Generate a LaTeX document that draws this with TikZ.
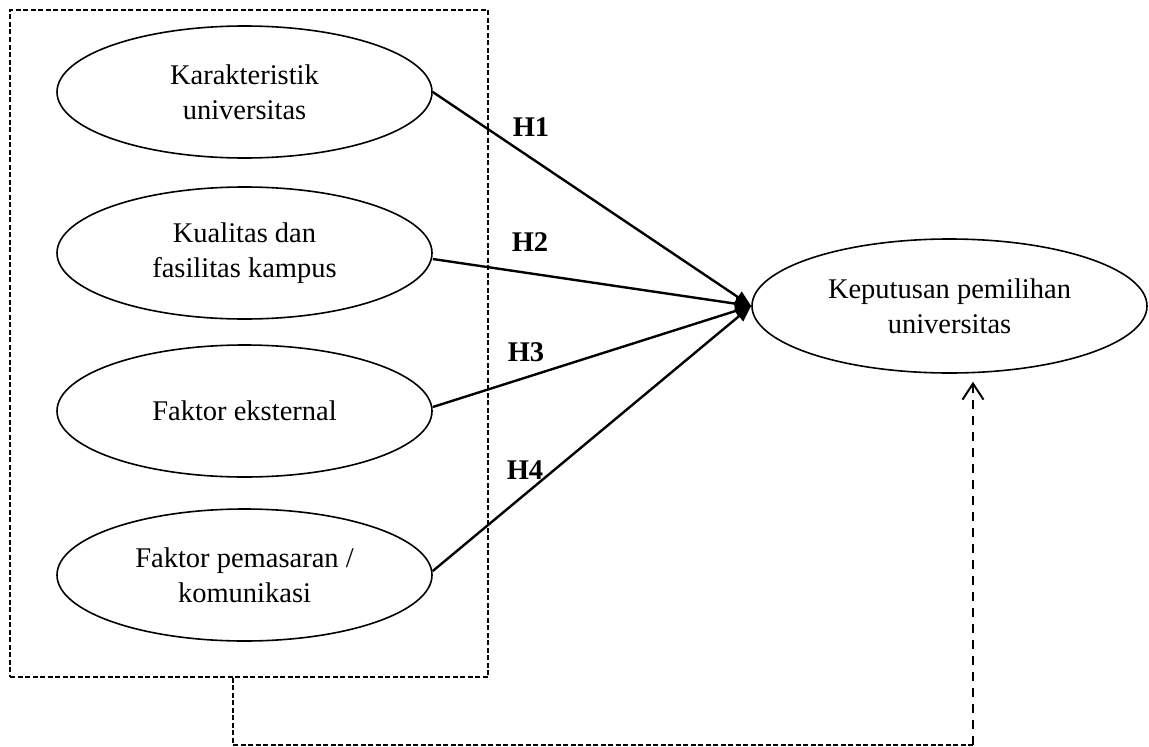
\documentclass[tikz,border=0pt]{standalone}
\usepackage{fontspec}
\setmainfont{Liberation Serif}
\usetikzlibrary{shapes.geometric,arrows.meta}
\begin{document}
\begin{tikzpicture}[x=1pt,y=-1pt,
  oval/.style={draw,ellipse,line width=1.6pt,inner sep=0pt,align=center,
    font=\fontsize{28.5}{35}\selectfont},
  leftoval/.style={oval,minimum width=375pt,minimum height=132pt},
  hyp/.style={line width=2.4pt,-{Triangle[length=16pt,width=13pt]}},
  hlabel/.style={font=\fontsize{28.5}{34}\selectfont\bfseries},
  finedash/.style={line width=1.4pt,dash pattern=on 5pt off 2.5pt},
  longdash/.style={line width=1.8pt,dash pattern=on 9pt off 7pt}]
\useasboundingbox[fill=white] (0,0) rectangle (1149,747);
\node[draw,finedash,minimum width=478pt,minimum height=667pt,inner sep=0pt] (box) at (249,343.5) {};
\node[leftoval] (e1) at (244.5,92) {Karakteristik\\universitas};
\node[leftoval] (e2) at (244.5,253) {Kualitas dan\\fasilitas kampus};
\node[leftoval] (e3) at (244.5,411) {Faktor eksternal};
\node[leftoval] (e4) at (244.5,575) {Faktor pemasaran /\\komunikasi};
\node[oval,minimum width=395pt,minimum height=134pt] (k) at (949.5,306) {Keputusan pemilihan\\universitas};
\draw[hyp] (e1.east) -- (k.west);
\draw[hyp] ([yshift=-6pt]e2.east) -- (k.west);
\draw[hyp] ([yshift=4pt]e3.east) -- (k.west);
\draw[hyp] ([yshift=4pt]e4.east) -- (k.west);
\node[hlabel] (h1) at (531,127) {H1};
\node[hlabel] (h2) at (530,242) {H2};
\node[hlabel] (h3) at (526,352) {H3};
\node[hlabel] (h4) at (525,470) {H4};
\coordinate (c1) at ([xshift=-16pt]box.south);
\coordinate (c2) at (233,745);
\coordinate (c3) at (973,745);
\draw[finedash] (c1) -- (c2) -- (c3);
\draw[longdash,-{Straight Barb[length=16pt,width=21pt,line width=2pt]},shorten >=8pt] (c3) -- (c3 |- k.south);
\end{tikzpicture}
\end{document}
